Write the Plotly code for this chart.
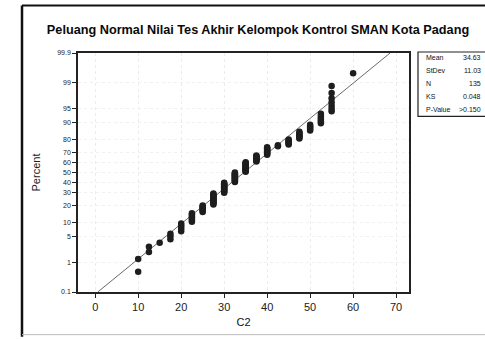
import plotly.graph_objects as go
from statistics import NormalDist

# ---- data ----
scores = [10, 12.5, 15, 17.5, 20, 22.5, 25, 27.5, 30, 32.5, 35, 37.5, 40, 42.5, 45, 47.5, 50, 52.5, 55, 60]
counts = [2, 2, 1, 3, 5, 7, 7, 13, 14, 14, 14, 9, 10, 2, 6, 7, 5, 6, 7, 1]
fit_mean = 34.6
fit_sd = 11.0
stat_labels = ["Mean", "StDev", "N", "KS", "P-Value"]
stat_values = ["34.63", "11.03", "135", "0.048", ">0.150"]
pct_ticks = [0.1, 1, 5, 10, 20, 30, 40, 50, 60, 70, 80, 90, 95, 99, 99.9]
pct_text = ["0.1", "1", "5", "10", "20", "30", "40", "50", "60", "70", "80", "90", "95", "99", "99.9"]
x_ticks = [0, 10, 20, 30, 40, 50, 60, 70]

nd = NormalDist()

# expand observations, median ranks
obs = []
for s, c in zip(scores, counts):
    obs += [s] * c
n = len(obs)
zs = [nd.inv_cdf((i + 1 - 0.3) / (n + 0.4)) for i in range(n)]

zlo = nd.inv_cdf(0.001)
zhi = nd.inv_cdf(0.999)
line_x = [fit_mean + fit_sd * zlo, fit_mean + fit_sd * zhi]
line_z = [zlo, zhi]

fig = go.Figure()
fig.add_trace(go.Scatter(x=line_x, y=line_z, mode="lines",
                         line=dict(color="#6a6a6a", width=1), hoverinfo="skip",
                         showlegend=False))
fig.add_trace(go.Scatter(x=obs, y=zs, mode="markers",
                         marker=dict(color="#1e1e1e", size=6.5), showlegend=False))

L, R, T, B = 78, 76, 53, 45
W, H = 485, 339
pw, ph = W - L - R, H - T - B

def px(xp):
    return (xp - L) / pw

def py(yp):
    return (H - B - yp) / ph

fig.update_layout(
    width=W, height=H,
    margin=dict(l=L, r=R, t=T, b=B, pad=0),
    paper_bgcolor="white", plot_bgcolor="white",
    font=dict(family="Liberation Sans, Arial, sans-serif", color="#1a1a1a"),
    title=dict(text="Peluang Normal Nilai Tes Akhir Kelompok Kontrol SMAN Kota Padang",
               x=(258) / W, xanchor="center", y=1 - 30 / H, yanchor="middle",
               font=dict(size=12.7, weight="bold", color="#0a0a0a")),
    xaxis=dict(range=[-4, 73], tickvals=x_ticks, ticks="outside", ticklen=4,
               tickcolor="#222", showline=True, linecolor="#222", linewidth=1.5,
               mirror=True, showgrid=True, gridcolor="#ececec", griddash="dot",
               gridwidth=1, zeroline=False, tickfont=dict(size=11, color="#222"),
               title=dict(text="C2", font=dict(size=11, color="#111"), standoff=6)),
    yaxis=dict(range=[zlo, zhi], tickvals=[nd.inv_cdf(p / 100) for p in pct_ticks],
               ticktext=pct_text, ticks="outside", ticklen=4, tickcolor="#222",
               showline=True, linecolor="#222", linewidth=1.5, mirror=True,
               showgrid=True, gridcolor="#f0f0f0", griddash="dot", zeroline=False,
               tickfont=dict(size=7, color="#222"),
               title=dict(text="Percent", font=dict(size=11, color="#222"), standoff=14)),
)

# stats box
fig.add_shape(type="rect", xref="paper", yref="paper",
              x0=px(418), x1=px(495), y0=py(117), y1=py(52),
              line=dict(color="#222", width=1.2), fillcolor="white")
rows_y = [58, 71, 84, 97, 110]
for lab, val, yy in zip(stat_labels, stat_values, rows_y):
    fig.add_annotation(text=lab, xref="paper", yref="paper", x=px(424), y=py(yy),
                       xanchor="left", yanchor="middle", showarrow=False,
                       font=dict(size=7, color="#111"))
    fig.add_annotation(text=val, xref="paper", yref="paper", x=px(483), y=py(yy),
                       xanchor="right", yanchor="middle", showarrow=False,
                       font=dict(size=7, color="#111"))

# outer frame of scanned figure
fig.add_shape(type="line", xref="paper", yref="paper", x0=px(22), x1=px(22),
              y0=py(339), y1=py(5), line=dict(color="#111", width=2.5))
fig.add_shape(type="line", xref="paper", yref="paper", x0=px(22), x1=px(490),
              y0=py(5), y1=py(5), line=dict(color="#111", width=2))
fig.add_shape(type="line", xref="paper", yref="paper", x0=px(22), x1=px(490),
              y0=py(337), y1=py(337), line=dict(color="#bbbbbb", width=1))

fig.write_html("out.html", config={"displayModeBar": False},
               post_script="document.body.style.margin='0';document.body.style.overflow='hidden';")
